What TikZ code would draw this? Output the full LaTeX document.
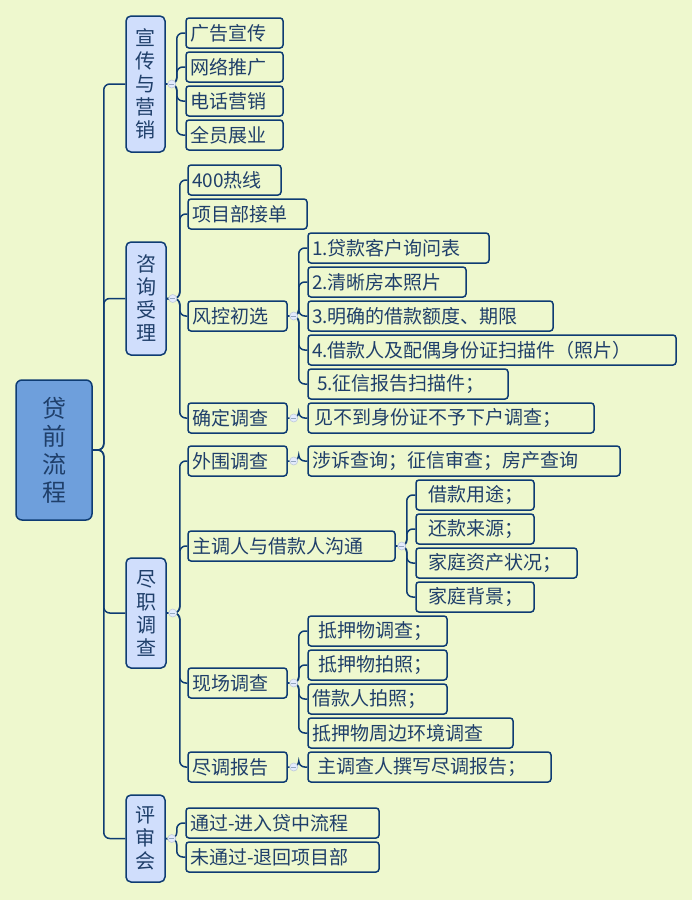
\documentclass[tikz,border=0pt]{standalone}
\usepackage{fontspec}
\setmainfont{Noto Sans CJK SC}
\definecolor{bg}{HTML}{EEF8CE}
\definecolor{bd}{HTML}{0E3C73}
\definecolor{tx}{HTML}{1F3F6A}
\definecolor{l1}{HTML}{D0DEFC}
\definecolor{rt}{HTML}{6E9FDC}
\newcommand{\bx}[7]{\node[#1, minimum width={#5-#3}, minimum height={#6-#4}] (#2) at ({(#3+#5)/2},{(#4+#6)/2}) {#7};}
\newcommand{\lf}[6]{\node[leaf, text width={#4-#2-8}, minimum height={#5-#3}] (#1) at ({(#2+#4)/2},{(#3+#5)/2}) {#6};}
\newcommand{\cn}[3]{\draw[conn] (#1.east) -- ++(#3,0) |- (#2.west);}
\newcommand{\mk}[1]{\draw[mark color] ([xshift=6pt]#1.east) circle (4pt); \draw[bd!45,line width=0.7pt] ([xshift=3.5pt]#1.east) -- ([xshift=8.5pt]#1.east);}
\begin{document}
\begin{tikzpicture}[x=1pt,y=-1pt,
  box/.style={draw=bd, line width=1.5pt, rounded corners=3pt, inner sep=0pt, text=tx},
  leaf/.style={box, fill=bg, inner xsep=4pt, align=left, font=\fontsize{19}{19}\selectfont},
  lone/.style={box, fill=l1, rounded corners=5pt, font=\fontsize{20}{23}\selectfont, align=center},
  root/.style={box, fill=rt, rounded corners=6pt, font=\fontsize{24}{28}\selectfont, align=center},
  conn/.style={draw=bd, line width=1.5pt, rounded corners=6pt},
  mark color/.style={draw=bd!25, fill=l1!60!white, line width=0.7pt}]
\fill[bg] (0,0) rectangle (692,900);
\useasboundingbox (0,0) rectangle (692,900);
\bx{root}{r}{16}{380}{92}{520}{贷\\前\\流\\程}
\bx{lone}{a}{126}{16}{165}{152}{宣\\传\\与\\营\\销}
\bx{lone}{b}{126}{242}{166}{355}{咨\\询\\受\\理}
\bx{lone}{c}{126}{558}{166}{668}{尽\\职\\调\\查}
\bx{lone}{d}{126}{795}{165}{882}{评\\审\\会}
\lf{a1}{186}{18}{283}{48}{广告宣传}
\lf{a2}{186}{52}{283}{82}{网络推广}
\lf{a3}{186}{86}{283}{116}{电话营销}
\lf{a4}{186}{120}{283}{150}{全员展业}
\lf{b1}{188}{165}{281}{195}{400热线}
\lf{b2}{188}{199}{307}{229}{项目部接单}
\lf{b3}{188}{301}{287}{331}{风控初选}
\lf{b4}{188}{403}{287}{433}{确定调查}
\lf{f1}{308}{233}{489}{263}{1.贷款客户询问表}
\lf{f2}{308}{267}{466}{297}{2.清晰房本照片}
\lf{f3}{308}{301}{553}{331}{3.明确的借款额度、期限}
\lf{f4}{308}{335}{676}{365}{4.借款人及配偶身份证扫描件（照片）}
\lf{f5}{308}{369}{508}{399}{\hspace{5pt}5.征信报告扫描件；}
\lf{g1}{308}{403}{594}{433}{\hspace{2pt}见不到身份证不予下户调查；}
\lf{c1}{188}{446}{287}{476}{外围调查}
\lf{c2}{188}{531}{395}{561}{主调人与借款人沟通}
\lf{c3}{188}{668}{287}{698}{现场调查}
\lf{c4}{188}{752}{287}{782}{尽调报告}
\lf{h1}{308}{446}{620}{476}{涉诉查询；征信审查；房产查询}
\lf{i1}{416}{480}{534}{510}{\hspace{8pt}借款用途；}
\lf{i2}{416}{514}{534}{544}{\hspace{8pt}还款来源；}
\lf{i3}{416}{548}{577}{578}{\hspace{8pt}家庭资产状况；}
\lf{i4}{416}{582}{534}{612}{\hspace{8pt}家庭背景；}
\lf{j1}{308}{616}{447}{646}{\hspace{6pt}抵押物调查；}
\lf{j2}{308}{650}{447}{680}{\hspace{6pt}抵押物拍照；}
\lf{j3}{308}{684}{447}{714}{借款人拍照；}
\lf{j4}{308}{718}{513}{748}{抵押物周边环境调查}
\lf{k1}{308}{752}{551}{782}{\hspace{5pt}主调查人撰写尽调报告；}
\lf{d1}{186}{808}{379}{838}{通过-进入贷中流程}
\lf{d2}{186}{842}{379}{872}{未通过-退回项目部}
\foreach \n in {a,b,c,d} {\cn{r}{\n}{11}}
\foreach \n in {a1,a2,a3,a4} {\cn{a}{\n}{11}}
\foreach \n in {b1,b2,b3,b4} {\cn{b}{\n}{13}}
\foreach \n in {c1,c2,c3,c4} {\cn{c}{\n}{13}}
\foreach \n in {d1,d2} {\cn{d}{\n}{11}}
\foreach \n in {f1,f2,f3,f4,f5} {\cn{b3}{\n}{11}}
\cn{b4}{g1}{11}
\cn{c1}{h1}{11}
\foreach \n in {i1,i2,i3,i4} {\cn{c2}{\n}{11}}
\foreach \n in {j1,j2,j3,j4} {\cn{c3}{\n}{11}}
\cn{c4}{k1}{11}
\foreach \n in {a,b,c,d,b3,b4,c1,c2,c3,c4} {\mk{\n}}
\end{tikzpicture}
\end{document}
